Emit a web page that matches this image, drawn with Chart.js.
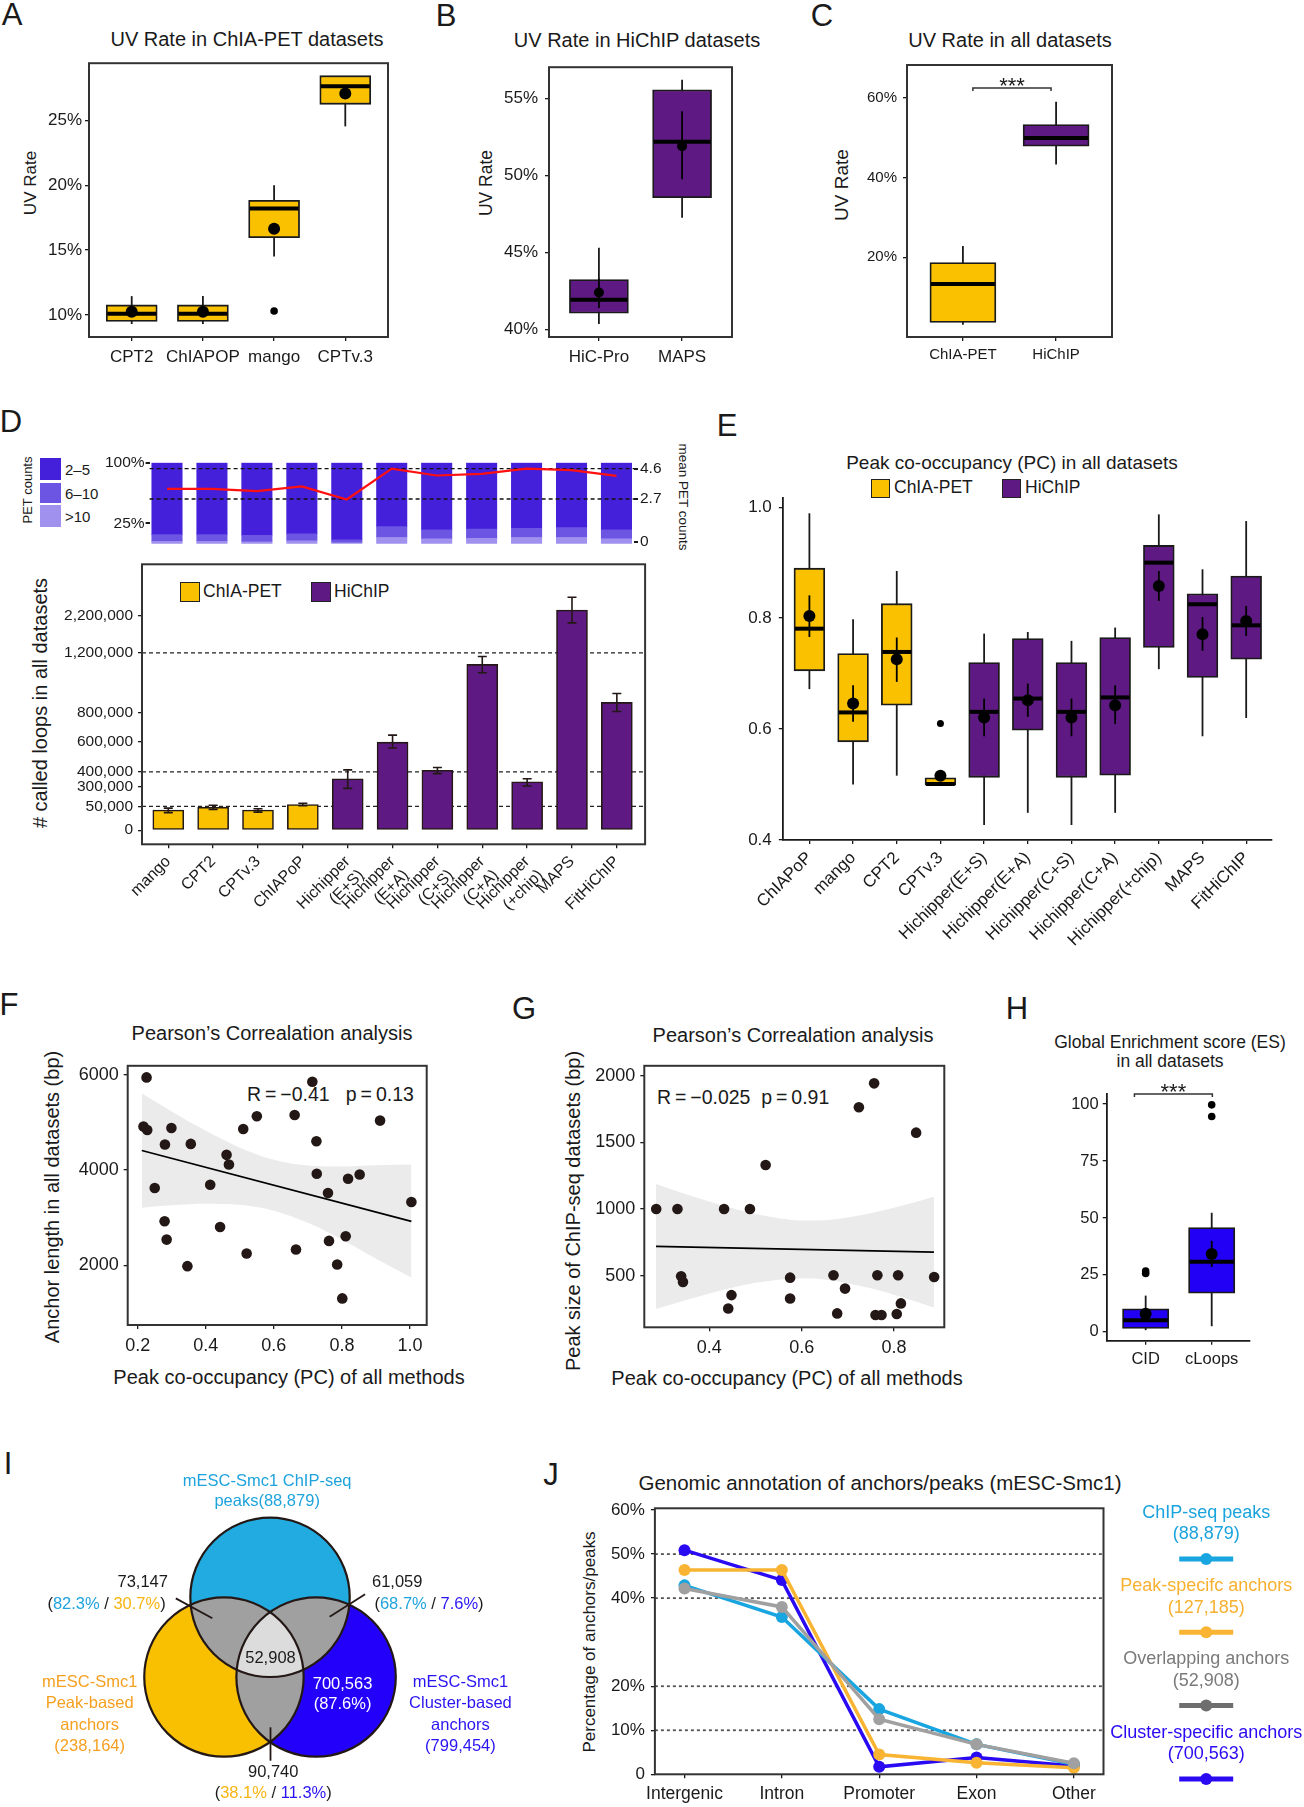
<!DOCTYPE html>
<html>
<head>
<meta charset="utf-8">
<title>Loop caller benchmark</title>
<script src="https://cdn.jsdelivr.net/npm/chart.js@4.4.1/dist/chart.umd.min.js"></script>
<style>
  body { margin:0; width:1304px; height:1807px; position:relative; background:#fff; overflow:hidden;
         font-family:'Liberation Sans', Arial, Helvetica, sans-serif; color:#1a1a1a; }
  canvas { position:absolute; }
  .t { position:absolute; white-space:nowrap; line-height:1; }
</style>
</head>
<body>
<script>
// ---------------- data ----------------
// A: UV rate in ChIA-PET datasets (%)
const uvChiaLabels = ['CPT2', 'ChIAPOP', 'mango', 'CPTv.3'];
const uvChiaQ1 = [9.5, 9.5, 15.96, 26.23];
const uvChiaMed = [10.1, 10.1, 18.2, 27.63];
const uvChiaQ3 = [10.77, 10.77, 18.83, 28.44];
const uvChiaLo = [9.3, 9.3, 14.5, 24.53];
const uvChiaHi = [11.45, 11.45, 20.0, 27.9];
const uvChiaMean = [10.25, 10.25, 16.65, 27.07];
const uvChiaOut = [{x: 2, y: 10.3}];

// B: UV rate in HiChIP datasets (%)
const uvHichipLabels = ['HiC-Pro', 'MAPS'];
const uvHichipQ1 = [41.06, 48.56];
const uvHichipMed = [41.94, 52.19];
const uvHichipQ3 = [43.25, 55.56];
const uvHichipLo = [40.37, 47.25];
const uvHichipHi = [45.31, 56.2];
const uvHichipMean = [42.41, 51.9];
const uvHichipSeLo = [41.4, 49.75];
const uvHichipSeHi = [43.3, 54.16];

// C: UV rate in all datasets (%)
const uvAllLabels = ['ChIA-PET', 'HiChIP'];
const uvAllQ1 = [3.67, 47.9];
const uvAllMed = [13.33, 50.0];
const uvAllQ3 = [18.67, 53.33];
const uvAllLo = [3.08, 43.33];
const uvAllHi = [22.83, 59.08];

// D: called loops per method
const loopMethods = ['mango', 'CPT2', 'CPTv.3', 'ChIAPoP', ['Hichipper', '(E+S)'], ['Hichipper', '(E+A)'],
  ['Hichipper', '(C+S)'], ['Hichipper', '(C+A)'], ['Hichipper', '(+chip)'], 'MAPS', 'FitHiChIP'];
const loopIsHichip = [0, 0, 0, 0, 1, 1, 1, 1, 1, 1, 1];
const petShare2to5 = [88.7, 88.7, 89.9, 87.9, 95.2, 78.9, 83.0, 81.8, 81.0, 80.2, 83.0];
const petShare6to10 = [8.5, 8.5, 7.7, 8.5, 3.6, 13.4, 10.9, 11.7, 11.3, 12.1, 10.9];
const petShareOver10 = [2.8, 2.8, 2.4, 3.6, 1.2, 7.7, 6.1, 6.5, 7.7, 7.7, 6.1];
const petMean = [3.33, 3.33, 3.19, 3.49, 2.67, 4.6, 4.17, 4.27, 4.6, 4.5, 4.15];
const petMeanGuides = [4.6, 2.7];
const loopCount = [42300, 48500, 42300, 75000, 353000, 600000, 411000, 1123000, 333000, 2342000, 867000];
const loopLow = [36900, 43800, 38100, 59000, 279000, 560000, 388000, 1067000, 305000, 2000000, 806000];
const loopHigh = [46500, 66000, 45200, 91000, 413000, 647000, 429000, 1176000, 353000, 2684000, 927000];
const loopTicks = [0, 50000, 300000, 400000, 600000, 800000, 1200000, 2200000];
const loopGuides = [50000, 400000, 1200000];

// E: peak co-occupancy
const pcLabels = ['ChIAPoP', 'mango', 'CPT2', 'CPTv.3', 'Hichipper(E+S)', 'Hichipper(E+A)', 'Hichipper(C+S)',
  'Hichipper(C+A)', 'Hichipper(+chip)', 'MAPS', 'FitHiChIP'];
const pcIsHichip = [0, 0, 0, 0, 1, 1, 1, 1, 1, 1, 1];
const pcQ1 = [0.705, 0.577, 0.643, 0.499, 0.513, 0.598, 0.513, 0.517, 0.747, 0.693, 0.726];
const pcMed = [0.781, 0.630, 0.739, 0.501, 0.631, 0.655, 0.631, 0.657, 0.900, 0.825, 0.787];
const pcQ3 = [0.890, 0.736, 0.826, 0.512, 0.720, 0.763, 0.720, 0.765, 0.931, 0.844, 0.876];
const pcLo = [0.672, 0.500, 0.516, 0.499, 0.427, 0.449, 0.427, 0.449, 0.708, 0.587, 0.620];
const pcHi = [0.989, 0.798, 0.885, 0.512, 0.772, 0.775, 0.759, 0.783, 0.987, 0.888, 0.975];
const pcMean = [0.804, 0.646, 0.726, 0.516, 0.621, 0.652, 0.621, 0.643, 0.858, 0.771, 0.795];
const pcSeLo = [0.766, 0.613, 0.685, 0.516, 0.587, 0.622, 0.587, 0.609, 0.831, 0.741, 0.768];
const pcSeHi = [0.841, 0.679, 0.765, 0.516, 0.655, 0.682, 0.655, 0.679, 0.885, 0.802, 0.822];
const pcOut = [{x: 3, y: 0.610}];

// F: PC vs anchor length
const pcF = [0.226, 0.217, 0.228, 0.299, 0.280, 0.356, 0.250, 0.279, 0.285, 0.346, 0.413, 0.461, 0.468, 0.442, 0.510,
  0.550, 0.520, 0.661, 0.665, 0.713, 0.725, 0.726, 0.759, 0.762, 0.811, 0.786, 0.801, 0.818, 0.852, 0.912, 1.004];
const anchorLen = [5944, 4911, 4841, 4883, 4534, 4548, 3620, 2922, 2538, 1980, 3690, 4318, 4115, 2803, 4862,
  5127, 2245, 5155, 2329, 5853, 4604, 3920, 3515, 2510, 2608, 2015, 1303, 3815, 3906, 5037, 3327];
const fitFx = [0.212, 1.004];
const fitFy = [4409, 2922];
const bandFx = [0.212, 0.3, 0.4, 0.5, 0.6, 0.7, 0.8, 0.9, 1.004];
const bandFhi = [5609, 5227, 4822, 4469, 4214, 4093, 4072, 4101, 4116];
const bandFlo = [3209, 3259, 3288, 3267, 3146, 2891, 2538, 2133, 1742];

// G: PC vs ChIP-seq peak size
const pcG = [0.285, 0.331, 0.432, 0.488, 0.522, 0.339, 0.343, 0.448, 0.441, 0.575, 0.575, 0.669,
  0.694, 0.677, 0.724, 0.757, 0.764, 0.760, 0.773, 0.809, 0.815, 0.806, 0.848, 0.887];
const peakSize = [1000, 1000, 1000, 1000, 1330, 495, 453, 354, 254, 485, 329, 503,
  403, 217, 1764, 1943, 503, 205, 205, 503, 292, 212, 1573, 490];
const fitGx = [0.2845, 0.8866];
const fitGy = [719, 677];
const bandGx = [0.2845, 0.35, 0.4, 0.45, 0.5, 0.55, 0.6, 0.65, 0.7, 0.75, 0.8, 0.8866];
const bandGhi = [1188, 1111, 1056, 1006, 963, 931, 914, 916, 936, 968, 1009, 1092];
const bandGlo = [250, 318, 366, 410, 446, 470, 480, 471, 444, 405, 357, 262];

// H: global enrichment score
const esLabels = ['CID', 'cLoops'];
const esQ1 = [1.44, 17.0];
const esMed = [5.05, 30.8];
const esQ3 = [10.1, 45.8];
const esLo = [0.72, 2.46];
const esHi = [15.9, 52.3];
const esMean = [7.94, 34.2];
const esSeLo = [6.1, 28.5];
const esSeHi = [9.8, 40.0];
const esOut = [{x: 0, y: 26.7}, {x: 0, y: 25.6}, {x: 1, y: 99.7}, {x: 1, y: 94.6}];

// I: overlap of ChIP-seq peaks and anchors
const vennNames = [['mESC-Smc1 ChIP-seq', 'peaks(88,879)'], ['mESC-Smc1', 'Peak-based', 'anchors', '(238,164)'],
  ['mESC-Smc1', 'Cluster-based', 'anchors', '(799,454)']];
const vennPairCounts = ['73,147', '61,059', '90,740'];
const vennPairPct = [['82.3%', '30.7%'], ['68.7%', '7.6%'], ['38.1%', '11.3%']];
const vennCore = '52,908';
const vennClusterOnly = ['700,563', '(87.6%)'];

// J: genomic annotation (%)
const annCats = ['Intergenic', 'Intron', 'Promoter', 'Exon', 'Other'];
const annNames = ['ChIP-seq peaks', 'Peak-specifc anchors', 'Overlapping anchors', 'Cluster-specific anchors'];
const annTotals = ['(88,879)', '(127,185)', '(52,908)', '(700,563)'];
const annChip = [42.9, 35.7, 14.8, 6.8, 2.3];
const annPeak = [46.4, 46.4, 4.5, 2.6, 1.5];
const annOverlap = [42.2, 38.0, 12.5, 6.8, 2.5];
const annCluster = [50.9, 44.1, 1.7, 3.8, 1.9];
const annTicks = [0, 10, 20, 40, 50, 60];
const annGuides = [10, 20, 40, 50];

// ---------------- helpers ----------------
const SANS = "'Liberation Sans', Arial, Helvetica, sans-serif";
const INK = '#1a1a1a';
const YELLOW = '#F9C100';
const PURPLE = '#5E1A82';
const BLUE = '#2200F5';
Chart.defaults.font.family = SANS;
Chart.defaults.color = INK;

function mount(x, y, w, h) {
  const c = document.createElement('canvas');
  c.width = w; c.height = h;
  Object.assign(c.style, {left: x + 'px', top: y + 'px', width: w + 'px', height: h + 'px'});
  document.body.appendChild(c);
  return c;
}

function text(str, x, y, size, opt = {}) {
  const d = document.createElement('div');
  d.className = 't';
  if (opt.html) d.innerHTML = str; else d.textContent = str;
  d.style.left = x + 'px';
  d.style.top = y + 'px';
  d.style.fontSize = size + 'px';
  if (opt.color) d.style.color = opt.color;
  const ax = opt.align === 'left' ? '0' : '-50%';
  d.style.transform = `translate(${ax},-50%)` + (opt.rot ? ` rotate(${opt.rot}deg)` : '');
  document.body.appendChild(d);
}

function swatch(x, y, w, h, color, border) {
  const d = document.createElement('div');
  Object.assign(d.style, {position: 'absolute', left: x + 'px', top: y + 'px', width: w + 'px', height: h + 'px',
    background: color, boxSizing: 'border-box', border: border || 'none'});
  document.body.appendChild(d);
}

const idxTicks = n => s => { s.ticks = Array.from({length: n}, (_, i) => ({value: i})); };
const valTicks = vals => s => { s.ticks = vals.map(v => ({value: v})); };
const noTip = {legend: {display: false}, tooltip: {enabled: false}};

function frameRect(ctx, a) {
  ctx.save();
  ctx.strokeStyle = '#333';
  ctx.lineWidth = 2;
  ctx.strokeRect(a.left, a.top, a.right - a.left, a.bottom - a.top);
  ctx.restore();
}

// whiskers, medians, mean +- se, frame, significance bracket
function boxDecor(o) {
  return {
    id: 'boxDecor',
    beforeDatasetsDraw(chart) {
      const {ctx, scales: {x, y}} = chart;
      ctx.save();
      ctx.strokeStyle = INK; ctx.lineWidth = 1.8;
      o.lo.forEach((lo, i) => {
        const px = x.getPixelForValue(i);
        ctx.beginPath();
        ctx.moveTo(px, y.getPixelForValue(lo));
        ctx.lineTo(px, y.getPixelForValue(o.hi[i]));
        ctx.stroke();
      });
      ctx.restore();
    },
    afterDatasetDraw(chart, args) {
      if (args.index !== 0) return;
      const {ctx, scales: {x, y}} = chart;
      const half = o.boxW / 2 - 1;
      ctx.save();
      ctx.strokeStyle = '#000';
      ctx.lineWidth = o.medW || 4;
      o.med.forEach((m, i) => {
        const px = x.getPixelForValue(i), py = y.getPixelForValue(m);
        ctx.beginPath(); ctx.moveTo(px - half, py); ctx.lineTo(px + half, py); ctx.stroke();
      });
      if (o.seLo) {
        ctx.lineWidth = 1.8;
        o.seLo.forEach((lo, i) => {
          const px = x.getPixelForValue(i);
          ctx.beginPath();
          ctx.moveTo(px, y.getPixelForValue(lo));
          ctx.lineTo(px, y.getPixelForValue(o.seHi[i]));
          ctx.stroke();
        });
      }
      ctx.restore();
    },
    afterDraw(chart) {
      const {ctx, chartArea, scales: {x, y}} = chart;
      if (o.frame) frameRect(ctx, chartArea);
      if (o.bracket) {
        const b = o.bracket;
        const x1 = x.getPixelForValue(b.from), x2 = x.getPixelForValue(b.to), yb = y.getPixelForValue(b.at);
        ctx.save();
        ctx.strokeStyle = '#333'; ctx.lineWidth = 1.5;
        ctx.beginPath();
        ctx.moveTo(x1, yb + 3); ctx.lineTo(x1, yb); ctx.lineTo(x2, yb); ctx.lineTo(x2, yb + 3);
        ctx.stroke();
        ctx.fillStyle = INK;
        ctx.font = `22px ${SANS}`;
        ctx.textAlign = 'center'; ctx.textBaseline = 'alphabetic';
        ctx.fillText(b.label, (x1 + x2) / 2, yb + 5);
        ctx.restore();
      }
    }
  };
}

function boxPlot(rect, plot, o) {
  const [rx, ry, rw, rh] = rect, [pl, pt, pr, pb] = plot;
  const n = o.labels.length;
  const datasets = [{
    type: 'bar',
    data: o.labels.map((_, i) => ({x: i, y: [o.q1[i], o.q3[i]]})),
    backgroundColor: o.fills, borderColor: INK, borderWidth: 1.8, borderSkipped: false,
    barThickness: o.boxW, order: 3
  }];
  if (o.mean) datasets.push({type: 'scatter', data: o.mean.map((v, i) => ({x: i, y: v})),
    pointRadius: o.meanR || 6, backgroundColor: '#000', borderColor: '#000', pointBorderWidth: 0, order: 1});
  if (o.out) datasets.push({type: 'scatter', data: o.out,
    pointRadius: o.outR || 3.8, backgroundColor: '#000', borderColor: '#000', pointBorderWidth: 0, order: 1});
  const tickFont = {family: SANS, size: o.tick || 17};
  const axisBorder = {display: !!o.axisLines, color: INK, width: 1.8};
  return new Chart(mount(rx, ry, rw, rh), {
    type: 'bar',
    data: {datasets},
    options: {
      responsive: false, animation: false, devicePixelRatio: 1,
      layout: {autoPadding: false, padding: {left: 0, top: pt - ry, right: rx + rw - pr, bottom: 0}},
      plugins: noTip,
      scales: {
        x: {
          type: 'linear', offset: false, min: o.xMin ?? -0.6, max: o.xMax ?? n - 0.4,
          afterBuildTicks: idxTicks(n),
          afterFit: s => { s.height = ry + rh - pb; },
          ticks: {autoSkip: false, minRotation: o.rot || 0, maxRotation: o.rot || 0, callback: v => o.labels[v],
            font: {family: SANS, size: o.xTick || o.tick || 17}, color: INK, padding: o.xPad ?? 5},
          grid: {offset: false, drawOnChartArea: false, tickLength: 4, color: INK, lineWidth: 1.3},
          border: axisBorder
        },
        y: {
          type: 'linear', min: o.yMin, max: o.yMax, beginAtZero: false,
          afterBuildTicks: valTicks(o.yTicks),
          afterFit: s => { s.width = pl - rx; },
          ticks: {callback: o.yFmt || (v => String(v)), font: tickFont, color: INK, padding: o.yPad ?? 3},
          grid: {drawOnChartArea: false, tickLength: 4, color: INK, lineWidth: 1.3},
          border: axisBorder
        }
      }
    },
    plugins: [boxDecor(o)]
  });
}

function corrPlot(rect, plot, o) {
  const [rx, ry, rw, rh] = rect, [pl, pt, pr, pb] = plot;
  const clear = 'rgba(0,0,0,0)';
  return new Chart(mount(rx, ry, rw, rh), {
    type: 'scatter',
    data: {datasets: [
      {type: 'line', data: o.bandX.map((v, i) => ({x: v, y: o.bandHi[i]})), fill: '+1', backgroundColor: '#EBEBEB',
        borderColor: clear, borderWidth: 0, pointRadius: 0, cubicInterpolationMode: 'monotone', order: 3},
      {type: 'line', data: o.bandX.map((v, i) => ({x: v, y: o.bandLo[i]})), fill: false,
        borderColor: clear, borderWidth: 0, pointRadius: 0, cubicInterpolationMode: 'monotone', order: 3},
      {type: 'line', data: o.fitX.map((v, i) => ({x: v, y: o.fitY[i]})), borderColor: '#000', borderWidth: 1.8,
        pointRadius: 0, order: 2},
      {type: 'scatter', data: o.px.map((v, i) => ({x: v, y: o.py[i]})), backgroundColor: '#231815',
        borderColor: '#231815', pointRadius: 5.3, pointBorderWidth: 0, order: 1}
    ]},
    options: {
      responsive: false, animation: false, devicePixelRatio: 1,
      layout: {autoPadding: false, padding: {left: 0, top: pt - ry, right: rx + rw - pr, bottom: 0}},
      plugins: noTip,
      scales: {
        x: {type: 'linear', min: o.xMin, max: o.xMax, afterBuildTicks: valTicks(o.xTicks),
          afterFit: s => { s.height = ry + rh - pb; },
          ticks: {callback: v => v.toFixed(1), font: {family: SANS, size: 18}, color: INK, padding: 6},
          grid: {drawOnChartArea: false, tickLength: 4, color: INK, lineWidth: 1.3}, border: {display: false}},
        y: {type: 'linear', min: o.yMin, max: o.yMax, afterBuildTicks: valTicks(o.yTicks),
          afterFit: s => { s.width = pl - rx; },
          ticks: {callback: v => String(v), font: {family: SANS, size: 18}, color: INK, padding: 5},
          grid: {drawOnChartArea: false, tickLength: 4, color: INK, lineWidth: 1.3}, border: {display: false}}
      }
    },
    plugins: [{id: 'frame', afterDraw: c => frameRect(c.ctx, c.chartArea)}]
  });
}

// ---------------- panel letters ----------------
[['A', 12, 14], ['B', 446, 15], ['C', 822, 15], ['D', 11, 421], ['E', 727, 425], ['F', 9, 1004],
 ['G', 524, 1008], ['H', 1017, 1008], ['I', 8, 1463], ['J', 551, 1474]]
  .forEach(([l, x, y]) => text(l, x, y, 31));

// ---------------- A ----------------
text('UV Rate in ChIA-PET datasets', 247, 39, 20);
text('UV Rate', 30, 183, 17, {rot: -90});
boxPlot([0, 50, 410, 330], [89, 60, 388, 337], {
  labels: uvChiaLabels, q1: uvChiaQ1, med: uvChiaMed, q3: uvChiaQ3, lo: uvChiaLo, hi: uvChiaHi,
  mean: uvChiaMean, out: uvChiaOut, fills: YELLOW, boxW: 51, frame: true,
  yMin: 8.3, yMax: 29.4, yTicks: [10, 15, 20, 25], yFmt: v => v + '%', xPad: 6
});

// ---------------- B ----------------
text('UV Rate in HiChIP datasets', 637, 40, 20);
text('UV Rate', 487, 183, 17.5, {rot: -90});
boxPlot([420, 50, 330, 330], [549, 57, 732, 337], {
  labels: uvHichipLabels, q1: uvHichipQ1, med: uvHichipMed, q3: uvHichipQ3, lo: uvHichipLo, hi: uvHichipHi,
  mean: uvHichipMean, meanR: 5, seLo: uvHichipSeLo, seHi: uvHichipSeHi, fills: PURPLE, boxW: 59, frame: true,
  yMin: 39.52, yMax: 57.02, yTicks: [40, 45, 50, 55], yFmt: v => v + '%', yPad: 7, xPad: 6
});

// ---------------- C ----------------
text('UV Rate in all datasets', 1010, 40, 20);
text('UV Rate', 841, 185, 19, {rot: -90});
boxPlot([830, 50, 300, 330], [907, 64, 1112, 337], {
  labels: uvAllLabels, q1: uvAllQ1, med: uvAllMed, q3: uvAllQ3, lo: uvAllLo, hi: uvAllHi,
  fills: [YELLOW, PURPLE], boxW: 66, frame: true, tick: 15,
  yMin: 0, yMax: 68.3, yTicks: [20, 40, 60], yFmt: v => v + '%', yPad: 6, xPad: 5,
  bracket: {from: 0.107, to: 0.946, at: 62.5, label: '***'}
});

// ---------------- D (top): PET count composition ----------------
text('PET counts', 27, 490, 13, {rot: -90});
text('mean PET counts', 683, 497, 13.5, {rot: 90});
[['2\u20135', '#4520DA', 458, 22], ['6\u201310', '#6B55E2', 483, 20], ['>10', '#A091EF', 505, 22]].forEach(([l, c, y, h]) => {
  swatch(40, y, 21, h, c);
  text(l, 65, y + h / 2, 15, {align: 'left'});
});
new Chart(mount(60, 440, 640, 115), {
  type: 'bar',
  data: {datasets: [
    {label: '>10', data: petShareOver10.map((v, i) => ({x: i, y: v})), backgroundColor: '#A091EF', stack: 'pet', barThickness: 30.4, order: 1},
    {label: '6-10', data: petShare6to10.map((v, i) => ({x: i, y: v})), backgroundColor: '#6B55E2', stack: 'pet', barThickness: 30.4, order: 1},
    {label: '2-5', data: petShare2to5.map((v, i) => ({x: i, y: v})), backgroundColor: '#4520DA', stack: 'pet', barThickness: 30.4, order: 1},
    {type: 'line', label: 'mean', data: petMean.map((v, i) => ({x: i, y: v})), yAxisID: 'y2', borderColor: '#FF1010',
      borderWidth: 2.2, pointRadius: 0, order: 0}
  ]},
  options: {
    responsive: false, animation: false, devicePixelRatio: 1,
    layout: {autoPadding: false, padding: {left: 0, top: 22.7, right: 0, bottom: 10}},
    plugins: noTip,
    scales: {
      x: {type: 'linear', display: false, stacked: true, offset: false, min: -0.387, max: 10.39},
      y: {stacked: true, min: 0, max: 100, afterBuildTicks: valTicks([25, 100]), afterFit: s => { s.width = 89.6; },
        ticks: {callback: v => v + '%', font: {size: 15.5}, color: INK, padding: 1},
        grid: {drawOnChartArea: false, tickLength: 4, color: INK, lineWidth: 2}, border: {display: false}},
      y2: {position: 'right', min: -0.1, max: 4.97, afterBuildTicks: valTicks([0, 2.7, 4.6]),
        afterFit: s => { s.width = 66; },
        ticks: {font: {size: 15.5}, color: INK, padding: 2},
        grid: {drawOnChartArea: false, tickLength: 4, color: INK, lineWidth: 2}, border: {display: false}}
    }
  },
  plugins: [{
    id: 'petGuides',
    afterDatasetDraw(chart, args) {
      if (args.index !== 0) return;
      const {ctx, chartArea: a, scales: {y2}} = chart;
      ctx.save();
      ctx.strokeStyle = '#111'; ctx.lineWidth = 1.4; ctx.setLineDash([4, 3]);
      petMeanGuides.forEach(v => {
        const py = y2.getPixelForValue(v);
        ctx.beginPath(); ctx.moveTo(a.left, py); ctx.lineTo(a.right, py); ctx.stroke();
      });
      ctx.restore();
    }
  }]
});

// ---------------- D (bottom): called loops ----------------
const loopAxisIn = [0, 50000, 300000, 400000, 1200000, 2200000];
const loopAxisOut = [0, 24, 44, 59, 179.3, 217.3];
function loopPos(v) {
  let i = 1;
  while (i < loopAxisIn.length - 1 && v > loopAxisIn[i]) i++;
  const a = loopAxisIn[i - 1], b = loopAxisIn[i];
  return loopAxisOut[i - 1] + (v - a) / (b - a) * (loopAxisOut[i] - loopAxisOut[i - 1]);
}
text('# called loops in all datasets', 40, 703, 20, {rot: -90});
swatch(180, 582, 20, 20, YELLOW, '1.5px solid #222');
text('ChIA-PET', 203, 592, 17.5, {align: 'left'});
swatch(311, 582, 20, 20, PURPLE, '1.5px solid #222');
text('HiChIP', 334, 592, 17.5, {align: 'left'});
new Chart(mount(0, 550, 680, 450), {
  type: 'bar',
  data: {datasets: [{
    data: loopCount.map((v, i) => ({x: i, y: loopPos(v)})),
    backgroundColor: loopIsHichip.map(h => h ? PURPLE : YELLOW),
    borderColor: '#231815', borderWidth: 1.6, borderSkipped: false, barThickness: 31
  }]},
  options: {
    responsive: false, animation: false, devicePixelRatio: 1,
    layout: {autoPadding: false, padding: {left: 0, top: 11, right: 680 - 645.1, bottom: 0}},
    plugins: noTip,
    scales: {
      x: {type: 'linear', offset: false, min: -0.586, max: 10.63, afterBuildTicks: idxTicks(loopMethods.length),
        afterFit: s => { s.height = 1000 - 844.3; },
        ticks: {autoSkip: false, minRotation: 45, maxRotation: 45, callback: v => loopMethods[v],
          font: {size: 16}, color: INK, padding: 4},
        grid: {offset: false, drawOnChartArea: false, tickLength: 4, color: INK, lineWidth: 1.3}, border: {display: false}},
      y: {min: -14.3, max: 269, beginAtZero: false, afterBuildTicks: valTicks(loopTicks.map(loopPos)),
        afterFit: s => { s.width = 142; },
        ticks: {callback: (v, i) => loopTicks[i].toLocaleString('en-US'), font: {size: 15.5}, color: INK, padding: 5},
        grid: {drawOnChartArea: false, tickLength: 4, color: INK, lineWidth: 1.3}, border: {display: false}}
    }
  },
  plugins: [{
    id: 'loopDecor',
    beforeDatasetsDraw(chart) {
      const {ctx, chartArea: a, scales: {y}} = chart;
      ctx.save();
      ctx.strokeStyle = '#222'; ctx.lineWidth = 1.3; ctx.setLineDash([4, 3]);
      loopGuides.forEach(v => {
        const py = y.getPixelForValue(loopPos(v));
        ctx.beginPath(); ctx.moveTo(a.left, py); ctx.lineTo(a.right, py); ctx.stroke();
      });
      ctx.restore();
    },
    afterDatasetsDraw(chart) {
      const {ctx, scales: {x, y}} = chart;
      ctx.save();
      ctx.strokeStyle = '#231815'; ctx.lineWidth = 1.6;
      loopCount.forEach((_, i) => {
        const px = x.getPixelForValue(i);
        const y1 = y.getPixelForValue(loopPos(loopLow[i])), y2 = y.getPixelForValue(loopPos(loopHigh[i]));
        ctx.beginPath();
        ctx.moveTo(px, y1); ctx.lineTo(px, y2);
        ctx.moveTo(px - 4.5, y1); ctx.lineTo(px + 4.5, y1);
        ctx.moveTo(px - 4.5, y2); ctx.lineTo(px + 4.5, y2);
        ctx.stroke();
      });
      ctx.restore();
      frameRect(ctx, chart.chartArea);
    }
  }]
});

// ---------------- E ----------------
text('Peak co-occupancy (PC) in all datasets', 1012, 462, 19);
swatch(871, 479, 19, 19, YELLOW, '1.5px solid #222');
text('ChIA-PET', 894, 488, 17.5, {align: 'left'});
swatch(1002, 479, 19, 19, PURPLE, '1.5px solid #222');
text('HiChIP', 1025, 488, 17.5, {align: 'left'});
boxPlot([700, 480, 604, 480], [782.8, 498.3, 1271.3, 840], {
  labels: pcLabels, q1: pcQ1, med: pcMed, q3: pcQ3, lo: pcLo, hi: pcHi, mean: pcMean, seLo: pcSeLo, seHi: pcSeHi,
  out: pcOut, outR: 3.5, fills: pcIsHichip.map(h => h ? PURPLE : YELLOW), boxW: 30.8, axisLines: true,
  xMin: -0.609, xMax: 10.575, rot: 45, xTick: 17, tick: 17, xPad: 4,
  yMin: 0.4, yMax: 1.016, yTicks: [0.4, 0.6, 0.8, 1.0], yFmt: v => v.toFixed(1), yPad: 7
});

// ---------------- F ----------------
text('Pearson\u2019s Correalation analysis', 272, 1033, 20);
text('R\u2009=\u2009\u22120.41 &nbsp; p\u2009=\u20090.13', 247, 1095, 19.5, {html: true, align: 'left'});
text('Peak co-occupancy (PC) of all methods', 289, 1377, 20);
text('Anchor length in all datasets (bp)', 52, 1197, 20, {rot: -90});
corrPlot([0, 1050, 470, 310], [127.7, 1065, 426.7, 1325], {
  px: pcF, py: anchorLen, fitX: fitFx, fitY: fitFy, bandX: bandFx, bandHi: bandFhi, bandLo: bandFlo,
  xMin: 0.1706, xMax: 1.049, xTicks: [0.2, 0.4, 0.6, 0.8, 1.0], yMin: 744, yMax: 6188, yTicks: [2000, 4000, 6000]
});

// ---------------- G ----------------
text('Pearson\u2019s Correalation analysis', 793, 1035, 20);
text('R\u2009=\u2009\u22120.025 &nbsp;p\u2009=\u20090.91', 657, 1098, 19.5, {html: true, align: 'left'});
text('Peak co-occupancy (PC) of all methods', 787, 1378, 20);
text('Peak size of ChIP-seq datasets (bp)', 573, 1211, 20, {rot: -90});
corrPlot([520, 1050, 450, 310], [644.3, 1064, 944.3, 1327.3], {
  px: pcG, py: peakSize, fitX: fitGx, fitY: fitGy, bandX: bandGx, bandHi: bandGhi, bandLo: bandGlo,
  xMin: 0.2592, xMax: 0.909, xTicks: [0.4, 0.6, 0.8], yMin: 112.6, yMax: 2074.5, yTicks: [500, 1000, 1500, 2000]
});

// ---------------- H ----------------
text('Global Enrichment score (ES)', 1170, 1043, 17.5);
text('in all datasets', 1170, 1062, 17.5);
boxPlot([1020, 1080, 284, 310], [1106.7, 1090.7, 1250, 1340.7], {
  labels: esLabels, q1: esQ1, med: esMed, q3: esQ3, lo: esLo, hi: esHi, mean: esMean, meanR: 6,
  seLo: esSeLo, seHi: esSeHi, out: esOut, fills: BLUE, boxW: 46.3, axisLines: true, tick: 16.5,
  xMin: -0.59, xMax: 1.58, yMin: -3.9, yMax: 104.5, yTicks: [0, 25, 50, 75, 100], yPad: 4, xPad: 5,
  bracket: {from: -0.17, to: 1.01, at: 104.5, label: '***'}
});

// ---------------- I: Venn ----------------
const VENN_CIRCLES = [[0, 1.0, 1], [-0.578, 0, 1], [0.578, 0, 1]];   // centre x, centre y, radius
const VENN_FILL = ['#22ABE0', '#F8C000', '#2300FA'];
const C_CYAN = '#1EA3DC', C_ORANGE = '#F5A020', C_GOLD = '#F8B410', C_BLUE = '#2A14F2';
new Chart(mount(0, 1440, 530, 367), {
  type: 'scatter',
  data: {datasets: [{data: []}]},
  options: {
    responsive: false, animation: false, devicePixelRatio: 1,
    layout: {padding: 0},
    plugins: noTip,
    scales: {
      x: {type: 'linear', display: false, min: -3.388, max: 3.262},
      y: {type: 'linear', display: false, min: -1.631, max: 2.974}
    }
  },
  plugins: [{
    id: 'venn',
    afterDatasetsDraw(chart) {
      const {ctx, scales: {x, y}} = chart;
      const px = v => x.getPixelForValue(v), py = v => y.getPixelForValue(v);
      const cs = VENN_CIRCLES.map(c => ({cx: px(c[0]), cy: py(c[1]), r: px(c[2]) - px(0)}));
      const path = c => { ctx.beginPath(); ctx.arc(c.cx, c.cy, c.r, 0, Math.PI * 2); };
      ctx.save();
      cs.forEach((c, i) => { path(c); ctx.fillStyle = VENN_FILL[i]; ctx.fill(); });
      [[0, 1], [0, 2], [1, 2]].forEach(([a, b]) => {
        ctx.save(); path(cs[a]); ctx.clip(); path(cs[b]); ctx.fillStyle = '#A0A0A0'; ctx.fill(); ctx.restore();
      });
      ctx.save(); path(cs[0]); ctx.clip(); path(cs[1]); ctx.clip(); path(cs[2]);
      ctx.fillStyle = '#DCDCDC'; ctx.fill(); ctx.restore();
      ctx.strokeStyle = '#231815'; ctx.lineWidth = 2.2;
      cs.forEach(c => { path(c); ctx.stroke(); });
      // leader lines
      ctx.lineWidth = 1.8;
      [[-1.182, 0.987, -0.724, 0.737], [1.193, 1.038, 0.748, 0.757], [0.006, -0.631, 0.006, -1.05]].forEach(s => {
        ctx.beginPath(); ctx.moveTo(px(s[0]), py(s[1])); ctx.lineTo(px(s[2]), py(s[3])); ctx.stroke();
      });
      // labels
      ctx.font = `16.5px ${SANS}`;
      ctx.textBaseline = 'middle'; ctx.textAlign = 'left';
      const put = (parts, xd, yd) => {
        const w = parts.reduce((s, p) => s + ctx.measureText(p[0]).width, 0);
        let cx = px(xd) - w / 2;
        parts.forEach(([t, c]) => { ctx.fillStyle = c; ctx.fillText(t, cx, py(yd)); cx += ctx.measureText(t).width; });
      };
      put([[vennNames[0][0], C_CYAN]], -0.036, 2.45);
      put([[vennNames[0][1], C_CYAN]], -0.036, 2.2);
      vennNames[1].forEach((l, k) => put([[l, C_ORANGE]], -2.263, -0.072 - 0.265 * k));
      vennNames[2].forEach((l, k) => put([[l, C_BLUE]], 2.389, -0.072 - 0.265 * k));
      const pairCols = [[C_CYAN, C_GOLD], [C_CYAN, C_BLUE], [C_GOLD, C_BLUE]];
      const pairPos = [[-1.597, 1.183, -2.051, 0.916], [1.596, 1.183, 1.995, 0.916], [0.04, -1.201, 0.04, -1.459]];
      vennPairCounts.forEach((n, k) => {
        const p = pairPos[k];
        put([[n, INK]], p[0], p[1]);
        put([['(', INK], [vennPairPct[k][0], pairCols[k][0]], [' / ', INK], [vennPairPct[k][1], pairCols[k][1]], [')', INK]], p[2], p[3]);
      });
      put([[vennCore, INK]], 0.006, 0.235);
      put([[vennClusterOnly[0], '#fff']], 0.91, -0.088);
      put([[vennClusterOnly[1], '#fff']], 0.91, -0.339);
      ctx.restore();
    }
  }]
});

// ---------------- J ----------------
const ANN_LINE = ['#19A5E0', '#F8B432', '#A0A0A0', '#2A0AF2'];
const ANN_TEXT = ['#1AA3DD', '#F8B030', '#7A7A7A', '#2A0AF2'];
const ANN_MARK = ['#19A5E0', '#F8B432', '#6E6E6E', '#2A0AF2'];
text('Genomic annotation of anchors/peaks (mESC-Smc1)', 880, 1483, 20.5);
text('Percentage of anchors/peaks', 589, 1642, 17, {rot: -90});
const annSeries = [annChip, annPeak, annOverlap, annCluster];
const annOrder = [2, 1, 0, 3];
new Chart(mount(530, 1490, 774, 317), {
  type: 'line',
  data: {datasets: annSeries.map((s, k) => ({
    data: s.map((v, i) => ({x: i, y: v})), borderColor: ANN_LINE[k], backgroundColor: ANN_LINE[k],
    borderWidth: 3.5, pointRadius: 6, pointBorderWidth: 0, clip: false, order: annOrder[k]
  }))},
  options: {
    responsive: false, animation: false, devicePixelRatio: 1,
    layout: {autoPadding: false, padding: {left: 0, top: 18.3, right: 1304 - 1103.5, bottom: 0}},
    plugins: noTip,
    scales: {
      x: {type: 'linear', min: -0.304, max: 4.304, afterBuildTicks: idxTicks(annCats.length),
        afterFit: s => { s.height = 1807 - 1774.3; },
        ticks: {callback: v => annCats[v], font: {size: 17.5}, color: INK, padding: 5},
        grid: {drawOnChartArea: false, tickLength: 4, color: INK, lineWidth: 1.3}, border: {display: false}},
      y: {min: 0, max: 60.4, afterBuildTicks: valTicks(annTicks), afterFit: s => { s.width = 654.9 - 530; },
        ticks: {callback: v => v === 0 ? '0' : v + '%', font: {size: 17}, color: INK, padding: 6},
        grid: {drawOnChartArea: false, tickLength: 4, color: INK, lineWidth: 1.3}, border: {display: false}}
    }
  },
  plugins: [{
    id: 'annDecor',
    beforeDatasetsDraw(chart) {
      const {ctx, chartArea: a, scales: {y}} = chart;
      ctx.save();
      ctx.strokeStyle = '#555'; ctx.lineWidth = 1.8; ctx.setLineDash([3, 3]);
      annGuides.forEach(v => {
        const py = y.getPixelForValue(v);
        ctx.beginPath(); ctx.moveTo(a.left, py); ctx.lineTo(a.right, py); ctx.stroke();
      });
      ctx.restore();
    },
    afterDraw(chart) {
      const {ctx, chartArea: a} = chart;
      frameRect(ctx, a);
      const cx = a.right + 102.7;
      ctx.save();
      ctx.font = `18px ${SANS}`;
      ctx.textAlign = 'center'; ctx.textBaseline = 'middle';
      annNames.forEach((nm, k) => {
        const y0 = 22.7 + 73.3 * k;
        ctx.fillStyle = ANN_TEXT[k];
        ctx.fillText(nm, cx, y0);
        ctx.fillText(annTotals[k], cx, y0 + 21.6);
        const my = y0 + 46.3;
        ctx.strokeStyle = ANN_MARK[k]; ctx.lineWidth = 5;
        ctx.beginPath(); ctx.moveTo(cx - 27, my); ctx.lineTo(cx + 27, my); ctx.stroke();
        ctx.fillStyle = ANN_MARK[k];
        ctx.beginPath(); ctx.arc(cx, my, 6, 0, Math.PI * 2); ctx.fill();
      });
      ctx.restore();
    }
  }]
});
</script>
</body>
</html>
